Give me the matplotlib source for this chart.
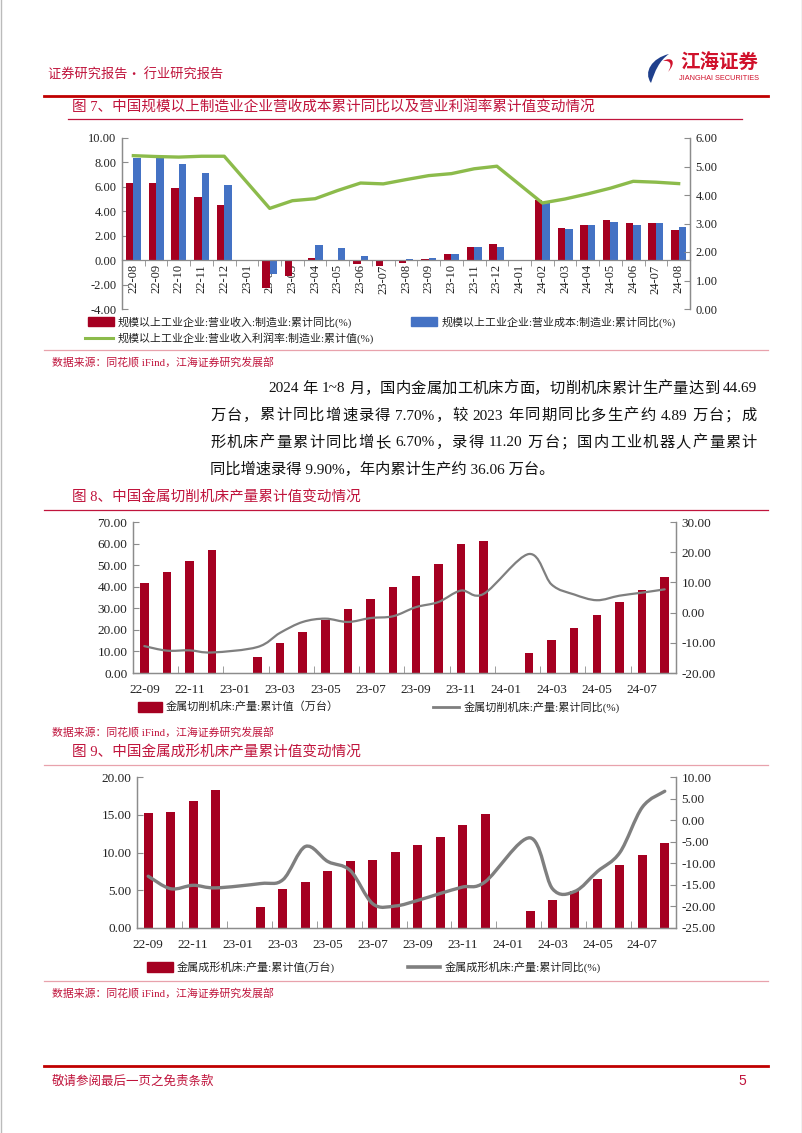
import re
import numpy as np
import matplotlib
matplotlib.use('Agg')
import matplotlib.pyplot as plt
from matplotlib.path import Path
from matplotlib.patches import PathPatch, Rectangle

nan = np.nan

# ---- figure 7 data ----
months7 = ['22-08', '22-09', '22-10', '22-11', '22-12', '23-01', '23-02', '23-03', '23-04',
           '23-05', '23-06', '23-07', '23-08', '23-09', '23-10', '23-11', '23-12', '24-01',
           '24-02', '24-03', '24-04', '24-05', '24-06', '24-07', '24-08']
rev_yoy = [6.3, 6.3, 5.9, 5.2, 4.5, nan, -2.3, -1.3, 0.2, 0.0, -0.35, -0.45, -0.2, 0.1, 0.5,
           1.1, 1.3, nan, 4.9, 2.6, 2.9, 3.25, 3.0, 3.0, 2.5]
cost_yoy = [8.4, 8.4, 7.85, 7.15, 6.15, nan, -1.15, -0.08, 1.2, 1.0, 0.3, 0.0, 0.1, 0.18, 0.5,
            1.1, 1.1, nan, 4.75, 2.55, 2.85, 3.12, 2.9, 3.03, 2.72]
margin = [5.38, 5.35, 5.33, 5.36, 5.36, nan, 3.53, 3.8, 3.87, 4.16, 4.42, 4.39, 4.54, 4.68,
          4.75, 4.92, 5.01, nan, 3.72, 3.86, 4.04, 4.24, 4.48, 4.45, 4.4]

# ---- figure 8 / 9 data ----
months = ['22-09', '22-10', '22-11', '22-12', '23-01', '23-02', '23-03', '23-04', '23-05',
          '23-06', '23-07', '23-08', '23-09', '23-10', '23-11', '23-12', '24-01', '24-02',
          '24-03', '24-04', '24-05', '24-06', '24-07', '24-08']
cut_cum = [41.5, 47.0, 51.8, 57.2, nan, 7.3, 13.7, 18.8, 24.4, 29.6, 34.4, 39.7, 45.1, 50.5,
           59.9, 61.2, nan, 9.1, 15.2, 21.0, 27.1, 33.0, 38.7, 44.69]
cut_yoy = [-11.1, -12.6, -12.5, -13.2, nan, -11.4, -6.7, -3.1, -2.0, -3.1, -1.8, -1.2, 1.8,
           3.5, 7.3, 6.2, nan, 19.4, 9.3, 6.0, 4.1, 5.6, 6.6, 7.7]
form_cum = [15.2, 15.4, 16.8, 18.3, nan, 2.8, 5.1, 6.1, 7.5, 8.85, 9.05, 10.1, 11.0, 12.1,
            13.6, 15.1, nan, 2.2, 3.7, 4.95, 6.55, 8.3, 9.7, 11.2]
form_yoy = [-13.0, -15.9, -15.1, -15.7, nan, -14.7, -13.8, -6.1, -9.6, -11.7, -19.4, -19.9,
            -18.6, -17.0, -15.5, -14.3, nan, -4.1, -15.9, -16.5, -11.9, -7.5, 3.0, 6.7]

para = ['2024 年 1~8 月，国内金属加工机床方面，切削机床累计生产量达到 44.69',
        '万台，累计同比增速录得 7.70%，较 2023 年同期同比多生产约 4.89 万台；成',
        '形机床产量累计同比增长 6.70%，录得 11.20 万台；国内工业机器人产量累计',
        '同比增速录得 9.90%，年内累计生产约 36.06 万台。']

RED = '#A50021'
BLUE = '#4472C4'
GREEN = '#8CBB4B'
GREY = '#7F7F7F'
TRED = '#C0143C'
PINK = '#E8A2AC'
MIX = ['Liberation Serif', 'Noto Sans CJK SC']
CJK = ['Noto Sans CJK SC', 'DejaVu Sans']
plt.rcParams['font.family'] = CJK

W, H = 802, 1133
fig = plt.figure(figsize=(W / 100, H / 100), dpi=100)
fig.patch.set_facecolor('white')

page = fig.add_axes([0, 0, 1, 1], zorder=0)
page.set_xlim(0, W)
page.set_ylim(H, 0)
page.axis('off')
renderer = fig.canvas.get_renderer()


def box(l, t, r, b):
    return [l / W, 1 - b / H, (r - l) / W, (b - t) / H]


def smooth(xs, ys):
    pts = [(x, y) for x, y in zip(xs, ys) if not np.isnan(y)]
    pts = np.array(pts, dtype=float)
    verts = [pts[0]]
    codes = [Path.MOVETO]
    n = len(pts)
    for i in range(n - 1):
        p0 = pts[i - 1] if i > 0 else pts[i]
        p1, p2 = pts[i], pts[i + 1]
        p3 = pts[i + 2] if i + 2 < n else pts[i + 1]
        verts += [p1 + (p2 - p0) / 6, p2 - (p3 - p1) / 6, p2]
        codes += [Path.CURVE4] * 3
    return Path(verts, codes)


def style_axes(ax, ax2):
    for a in (ax, ax2):
        a.patch.set_alpha(0)
        a.spines['top'].set_visible(False)
        for s in a.spines.values():
            s.set_color('#8C8C8C')
            s.set_linewidth(0.9)
        a.tick_params(axis='y', direction='in', length=4, color='#8C8C8C',
                      labelsize=9, labelcolor='#222222', pad=4)
        for lab in a.get_yticklabels():
            lab.set_family(MIX)


def justified(s, x0, x1, y, size):
    # lay the line out chunk by chunk so it fills x0..x1
    chunks = re.findall(r'[A-Za-z0-9.%~]+|[^\sA-Za-z0-9.%~]', s)
    texts, widths = [], []
    for c in chunks:
        t = page.text(0, y, c, fontsize=size, color='#111111', va='center', family=MIX)
        texts.append(t)
        widths.append(t.get_window_extent(renderer).width)
    nspace = s.count(' ')
    sp = size * 100 / 72 * 0.25
    gap = (x1 - x0 - sum(widths) - nspace * sp) / (len(chunks) - 1)
    pos = x0
    k = 0
    for c, t, w in zip(chunks, texts, widths):
        k = s.index(c, k)
        if k > 0 and s[k - 1] == ' ':
            pos += sp
        t.set_x(pos)
        pos += w + gap
        k += len(c)


# ---- page decoration ----
page.plot([0.5, 0.5], [0, H], color='#BBBBBB', lw=1)
page.plot([W - 0.5, W - 0.5], [0, H], color='#BBBBBB', lw=1)
page.text(48, 75, '证券研究报告· 行业研究报告', color=TRED, fontsize=9.5, va='center')
page.plot([44, 768], [96, 96], color='#C00000', lw=2)

# logo
logo = Path([(651, 83), (643, 72), (652, 58), (669, 54), (659, 61), (655, 71), (651, 83)],
            [Path.MOVETO, Path.CURVE4, Path.CURVE4, Path.CURVE4, Path.CURVE4, Path.CURVE4,
             Path.CURVE4])
page.add_patch(PathPatch(logo, facecolor='#1F3F8C', edgecolor='none'))
accent = Path([(663, 61), (672, 56), (677, 62), (668, 72), (673, 64), (670, 60), (663, 61)],
              [Path.MOVETO, Path.CURVE4, Path.CURVE4, Path.CURVE4, Path.CURVE4, Path.CURVE4,
               Path.CURVE4])
page.add_patch(PathPatch(accent, facecolor='#D0112B', edgecolor='none'))
page.text(719, 63, '江海证券', color='#D0112B', fontsize=14, fontweight='bold',
          ha='center', va='center')
page.text(719, 79, 'JIANGHAI SECURITIES', color='#D0112B', fontsize=5.3,
          family='Liberation Sans', ha='center', va='center')

# footer
page.plot([44, 768], [1066, 1066], color='#C00000', lw=2)
page.text(52, 1081, '敬请参阅最后一页之免责条款', color=TRED, fontsize=9, va='center')
page.text(738, 1081, '5', color=TRED, fontsize=10, family='Liberation Sans', va='center')

# titles and lines
page.text(72, 108, '图 7、中国规模以上制造业企业营收成本累计同比以及营业利润率累计值变动情况',
          color=TRED, fontsize=10.5, va='center', family=MIX)
page.plot([68, 742], [119, 119], color=TRED, lw=0.9)
page.plot([44, 768], [350, 350], color=PINK, lw=0.9)
page.text(52, 362, '数据来源：同花顺 iFind，江海证券研究发展部', color=TRED, fontsize=7.8,
          va='center', family=MIX)

page.text(72, 497, '图 8、中国金属切削机床产量累计值变动情况', color=TRED, fontsize=10.5,
          va='center', family=MIX)
page.plot([44, 768], [510, 510], color=TRED, lw=0.9)
page.text(52, 732, '数据来源：同花顺 iFind，江海证券研究发展部', color=TRED, fontsize=7.8,
          va='center', family=MIX)

page.text(72, 752, '图 9、中国金属成形机床产量累计值变动情况', color=TRED, fontsize=10.5,
          va='center', family=MIX)
page.plot([44, 768], [765, 765], color=PINK, lw=0.9)
page.plot([44, 768], [981, 981], color=PINK, lw=0.9)
page.text(52, 993, '数据来源：同花顺 iFind，江海证券研究发展部', color=TRED, fontsize=7.8,
          va='center', family=MIX)

# paragraph (first three lines justified, last line ragged)
para_x = [268, 210, 210, 210]
para_y = [389, 416, 443, 469]
for i, (s, x, y) in enumerate(zip(para, para_x, para_y)):
    if i < 3:
        justified(s, x, 757, y, 11)
    else:
        page.text(x, y, s, fontsize=11, color='#111111', va='center', family=MIX)

# ---- figure 7 ----
x7 = np.arange(len(months7))
ax = fig.add_axes(box(122, 138, 690, 309), zorder=2)
ax2 = ax.twinx()
bw = 0.33
ax.bar(x7 - bw / 2, rev_yoy, bw, color=RED, zorder=2)
ax.bar(x7 + bw / 2, cost_yoy, bw, color=BLUE, zorder=2)
m = ~np.isnan(margin)
ax2.plot(x7[m], np.array(margin)[m], color=GREEN, lw=2.4, solid_joinstyle='round')
ax.set_xlim(-0.5, len(months7) - 0.5)
ax.set_ylim(-4, 10)
ax.set_yticks(np.arange(-4, 10.1, 2))
ax.set_yticklabels(['%.2f' % v for v in np.arange(-4, 10.1, 2)])
ax2.set_ylim(0, 6)
ax2.set_yticks(np.arange(0, 6.1, 1))
ax2.set_yticklabels(['%.2f' % v for v in np.arange(0, 6.1, 1)])
ax.spines['bottom'].set_position(('data', 0))
ax2.spines['bottom'].set_visible(False)
ax.set_xticks(x7)
ax.set_xticklabels(months7, rotation=90, fontsize=9, family=MIX, color='#222222')
ax.tick_params(axis='x', length=0, pad=3)
ax.set_xticks(x7[:-1] + 0.5, minor=True)
ax.tick_params(axis='x', which='minor', direction='out', length=4, color='#8C8C8C')
style_axes(ax, ax2)

# legend 7
page.add_patch(Rectangle((88, 317), 26, 9, color=RED))
page.text(118, 322, '规模以上工业企业:营业收入:制造业:累计同比(%)', fontsize=7.9,
          va='center', family=MIX, color='#222222')
page.add_patch(Rectangle((411, 317), 26, 9, color=BLUE))
page.text(442, 322, '规模以上工业企业:营业成本:制造业:累计同比(%)', fontsize=7.9,
          va='center', family=MIX, color='#222222')
page.plot([85, 113], [338, 338], color=GREEN, lw=2.2)
page.text(118, 338, '规模以上工业企业:营业收入利润率:制造业:累计值(%)', fontsize=7.9,
          va='center', family=MIX, color='#222222')


def combo(pos, cum, yoy, lim1, step1, lim2, step2, bar_w, lw):
    xs = np.arange(len(months))
    a = fig.add_axes(box(*pos), zorder=2)
    b = a.twinx()
    a.bar(xs, cum, bar_w, color=RED, zorder=2)
    b.add_patch(PathPatch(smooth(xs, yoy), facecolor='none', edgecolor=GREY, lw=lw,
                          capstyle='round', joinstyle='round'))
    a.set_xlim(-0.5, len(months) - 0.5)
    a.set_ylim(*lim1)
    t1 = np.arange(lim1[0], lim1[1] + 0.01, step1)
    a.set_yticks(t1)
    a.set_yticklabels(['%.2f' % v for v in t1])
    b.set_ylim(*lim2)
    t2 = np.arange(lim2[0], lim2[1] + 0.01, step2)
    b.set_yticks(t2)
    b.set_yticklabels(['%.2f' % v for v in t2])
    a.set_xticks(xs[::2])
    a.set_xticklabels(months[::2], fontsize=9.5, family=MIX, color='#222222')
    a.tick_params(axis='x', length=0, pad=8)
    a.set_xticks(np.arange(1.5, len(months), 2), minor=True)
    a.tick_params(axis='x', which='minor', direction='in', length=5, color='#8C8C8C')
    style_axes(a, b)
    for lab in a.get_yticklabels() + b.get_yticklabels():
        lab.set_fontsize(9.5)
    return a, b


combo((133, 522, 676, 673), cut_cum, cut_yoy, (0, 70), 10, (-20, 30), 10, 0.38, 1.6)
page.add_patch(Rectangle((138, 702), 24, 10, color=RED))
page.text(166, 707, '金属切削机床:产量:累计值（万台）', fontsize=8, va='center', family=MIX,
          color='#222222')
page.plot([433, 459], [707, 707], color=GREY, lw=2)
page.text(464, 707, '金属切削机床:产量:累计同比(%)', fontsize=8, va='center', family=MIX,
          color='#222222')

combo((137, 777, 676, 928), form_cum, form_yoy, (0, 20), 5, (-25, 10), 5, 0.4, 2.4)
page.add_patch(Rectangle((147, 962), 26, 10, color=RED))
page.text(177, 967, '金属成形机床:产量:累计值(万台)', fontsize=8, va='center', family=MIX,
          color='#222222')
page.plot([408, 440], [967, 967], color=GREY, lw=2.6)
page.text(445, 967, '金属成形机床:产量:累计同比(%)', fontsize=8, va='center', family=MIX,
          color='#222222')

fig.savefig('out.png', dpi=100)
